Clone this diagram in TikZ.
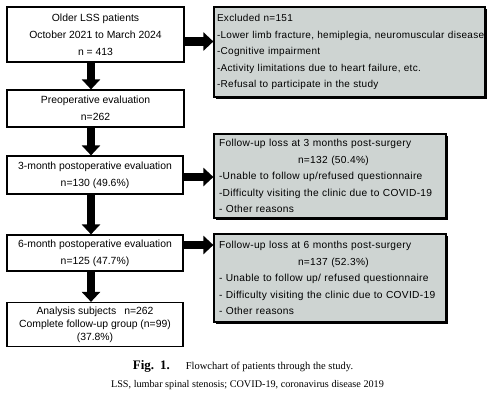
\documentclass[tikz,border=0pt]{standalone}
\usepackage{fontspec}
\setmainfont{Liberation Serif}
\setsansfont{Liberation Sans}
\newfontfamily\losssans[LetterSpace=3]{Liberation Sans}
\usepackage{tikz}
\usetikzlibrary{arrows.meta,shadows}
\definecolor{lossgray}{RGB}{206,212,210}

\begin{document}
\begin{tikzpicture}[x=1bp,y=-1bp]
    \tikzstyle{every node}=[font=\sffamily\fontsize{10.4bp}{17bp}\selectfont]
    \tikzstyle{stage}=[draw,line width=1.2bp,fill=white,align=center,minimum width=177bp,inner sep=0pt]
    \tikzstyle{loss}=[draw,line width=1.2bp,fill=lossgray,align=left,inner xsep=5bp,inner ysep=0pt,
        font=\losssans\fontsize{10.2bp}{16.5bp}\selectfont,
        drop shadow={shadow xshift=1.5bp,shadow yshift=-1.5bp,fill=black,opacity=1}]
    \tikzstyle{flow}=[line width=8.5bp,-{Triangle[length=10bp,width=18bp]}]
    \useasboundingbox (0,0) rectangle (492,400);

    \node[stage,minimum height=55bp] (older) at (95.5,34.5)
        {Older LSS patients\\October 2021 to March 2024\\n = 413};
    \node[stage,minimum height=37bp] (preop) at (95.5,108.5)
        {Preoperative evaluation\\n=262};
    \node[stage,minimum width=176bp,minimum height=38bp] (post3) at (95,175)
        {3-month postoperative evaluation\\n=130 (49.6\%)};
    \node[stage,minimum width=176bp,minimum height=36bp] (post6) at (95,253)
        {6-month postoperative evaluation\\n=125 (47.7\%)};
    \node[stage,minimum width=176bp,minimum height=44bp,
          font=\sffamily\fontsize{10.4bp}{13bp}\selectfont] (analysis) at (95,324.5)
        {Analysis subjects\hspace{8bp}n=262\\Complete follow-up group (n=99)\\(37.8\%)};

    \node[loss,text width=265bp,inner xsep=3bp,minimum height=90bp,
          font=\losssans\fontsize{10bp}{16.5bp}\selectfont] (excl) at (349.5,52)
        {Excluded n=151\\\mbox{-Lower limb fracture, hemiplegia, neuromuscular disease}\\-Cognitive impairment\\-Activity limitations due to heart failure, etc.\\-Refusal to participate in the study};
    \node[loss,text width=222bp,minimum height=84bp] (loss3) at (330,176)
        {Follow-up loss at 3 months post-surgery\\\hspace*{79bp}n=132 (50.4\%)\\-Unable to follow up/refused questionnaire\\-Difficulty visiting the clinic due to COVID-19\\- Other reasons};
    \node[loss,text width=222bp,minimum height=88bp] (loss6) at (330,278)
        {Follow-up loss at 6 months post-surgery\\\hspace*{79bp}n=137 (52.3\%)\\- Unable to follow up/ refused questionnaire\\- Difficulty visiting the clinic due to COVID-19\\- Other reasons};

    \draw[flow] ([xshift=-4.5bp]older.south) -- ([xshift=-4.5bp]preop.north);
    \draw[flow] ([xshift=-4.5bp]preop.south) -- ([xshift=-4bp]post3.north);
    \draw[flow] ([xshift=-4bp]post3.south) -- ([xshift=-4bp]post6.north);
    \draw[flow] ([xshift=-4bp]post6.south) -- ([xshift=-4bp]analysis.north);

    \coordinate (h1) at ([yshift=-7bp]older.east);
    \coordinate (h2) at ([yshift=-2bp]post3.east);
    \coordinate (h3) at ([yshift=8bp]post6.east);
    \draw[flow] (h1) -- (h1 -| excl.west);
    \draw[flow] (h2) -- (h2 -| loss3.west);
    \draw[flow] (h3) -- (h3 -| loss6.west);

    \node[font=\rmfamily\fontsize{10.5bp}{19bp}\selectfont] (caption) at (243,366)
        {{\fontsize{13bp}{19bp}\selectfont\textbf{Fig.\hspace{6bp}1.}}\hspace{16bp}Flowchart of patients through the study.};
    \node[font=\rmfamily\fontsize{10.2bp}{19bp}\selectfont] (note) at (247.5,385)
        {LSS, lumbar spinal stenosis; COVID-19, coronavirus disease 2019};
\end{tikzpicture}
\end{document}
